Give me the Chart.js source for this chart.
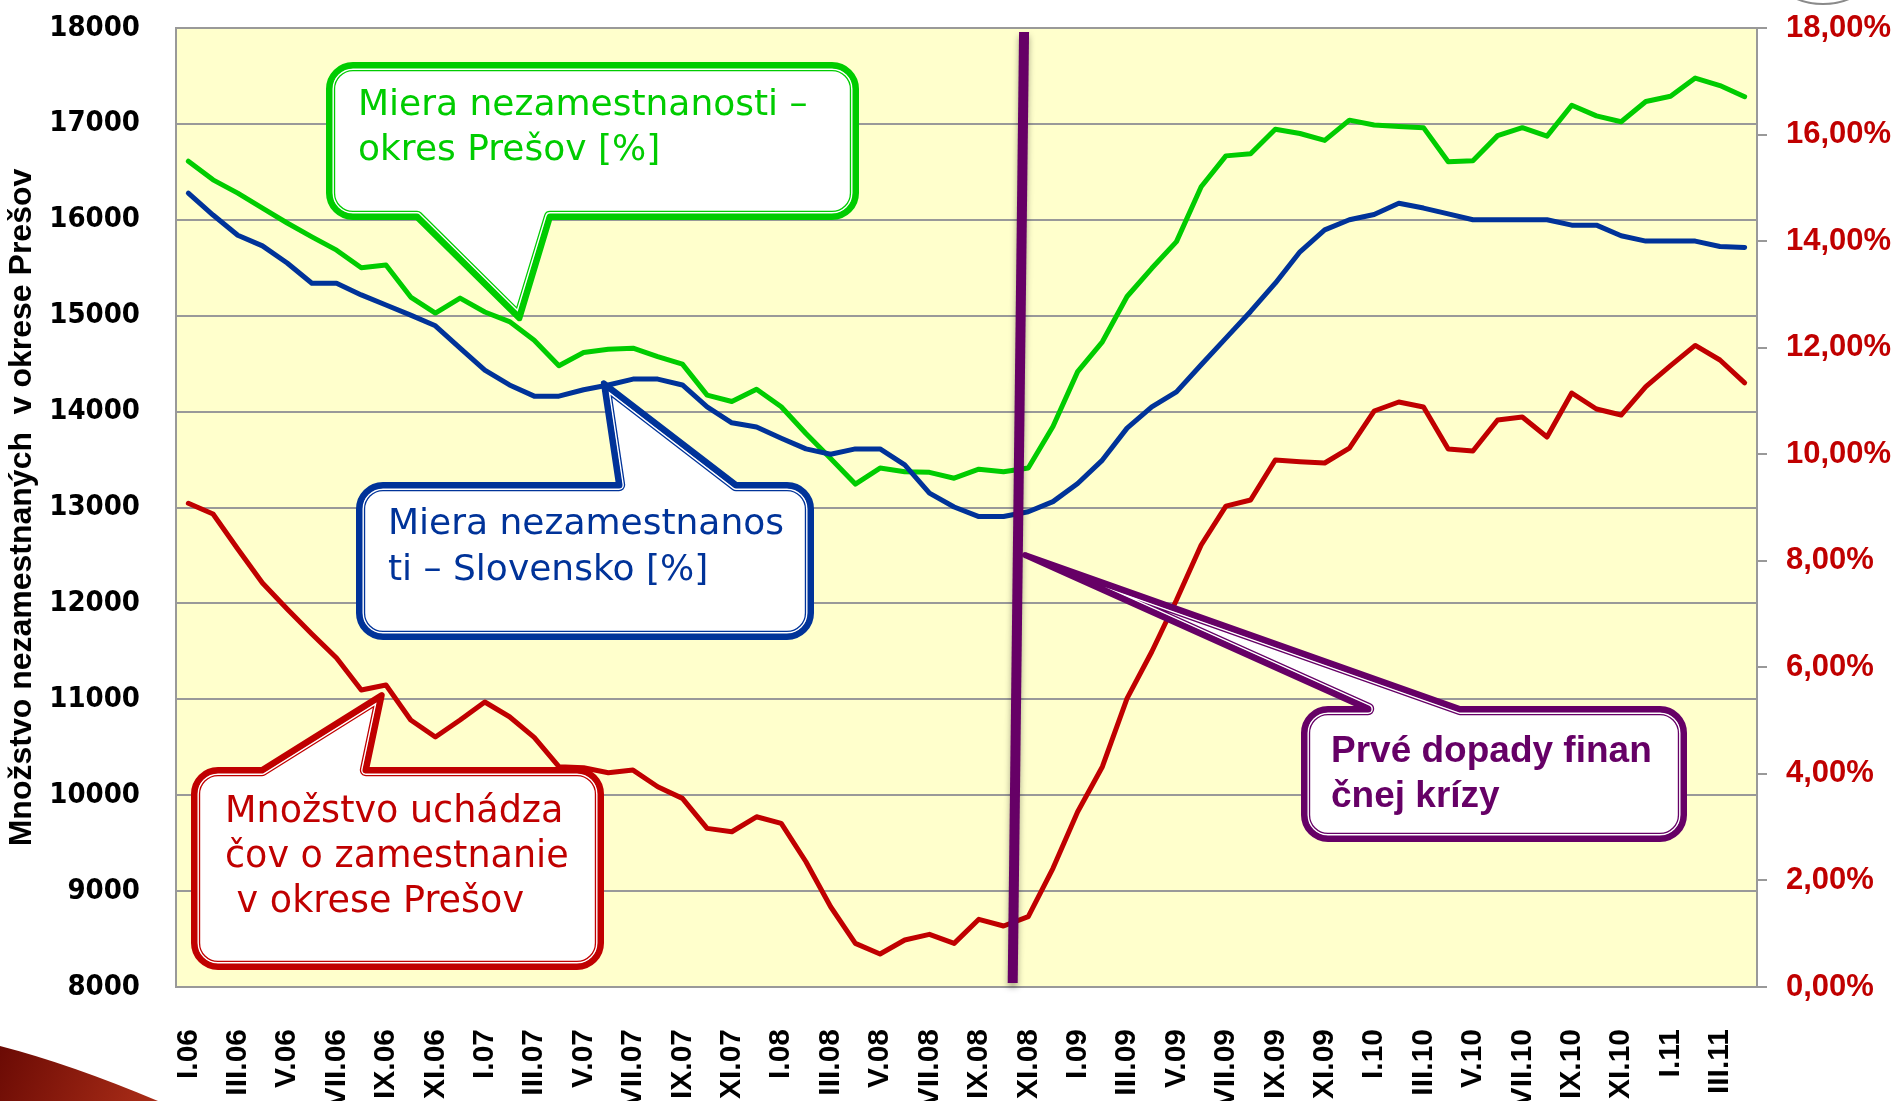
<!DOCTYPE html>
<html>
<head>
<meta charset="utf-8">
<script src="https://cdn.jsdelivr.net/npm/chart.js@4.4.1/dist/chart.umd.min.js"></script>
<style>
  html, body { margin: 0; padding: 0; background: #fff; }
  #wrap { width: 1901px; height: 1101px; }
</style>
</head>
<body>
<div id="wrap"><canvas id="chart" width="1901" height="1101"></canvas></div>
<script>
const months = [
  "I.06", "II.06", "III.06", "IV.06", "V.06", "VI.06", "VII.06", "VIII.06", "IX.06", "X.06", "XI.06", "XII.06",
  "I.07", "II.07", "III.07", "IV.07", "V.07", "VI.07", "VII.07", "VIII.07", "IX.07", "X.07", "XI.07", "XII.07",
  "I.08", "II.08", "III.08", "IV.08", "V.08", "VI.08", "VII.08", "VIII.08", "IX.08", "X.08", "XI.08", "XII.08",
  "I.09", "II.09", "III.09", "IV.09", "V.09", "VI.09", "VII.09", "VIII.09", "IX.09", "X.09", "XI.09", "XII.09",
  "I.10", "II.10", "III.10", "IV.10", "V.10", "VI.10", "VII.10", "VIII.10", "IX.10", "X.10", "XI.10", "XII.10",
  "I.11", "II.11", "III.11", "IV.11",
];

// pocet uchadzacov o zamestnanie v okrese Presov (lava os)
const uchadzaci = [
  13044, 12932, 12567, 12212, 11941, 11681, 11430, 11097, 11149, 10784, 10607, 10784,
  10972, 10818, 10603, 10297, 10286, 10234, 10262, 10088, 9967, 9654, 9619, 9775,
  9707, 9306, 8837, 8455, 8344, 8490, 8549, 8455, 8706, 8636, 8733, 9237,
  9828, 10297, 11010, 11496, 12035, 12609, 13015, 13078, 13495, 13477, 13464, 13620,
  14006, 14100, 14048, 13610, 13589, 13912, 13944, 13735, 14194, 14027, 13964, 14260,
  14480, 14690, 14538, 14300,
];

// miera nezamestnanosti - okres Presov [%] (prava os)
const mieraPresov = [
  15.50, 15.15, 14.90, 14.62, 14.34, 14.08, 13.83, 13.50, 13.55, 12.95, 12.65, 12.93,
  12.67, 12.49, 12.14, 11.66, 11.91, 11.97, 11.99, 11.83, 11.69, 11.11, 10.99, 11.22,
  10.89, 10.39, 9.92, 9.44, 9.74, 9.67, 9.66, 9.55, 9.72, 9.67, 9.74, 10.52,
  11.55, 12.11, 12.96, 13.49, 13.99, 15.02, 15.60, 15.64, 16.10, 16.02, 15.89, 16.27,
  16.18, 16.15, 16.13, 15.49, 15.51, 15.98, 16.13, 15.97, 16.55, 16.35, 16.24, 16.62,
  16.72, 17.06, 16.92, 16.71,
];

// miera nezamestnanosti - Slovensko [%] (prava os)
const mieraSlovensko = [
  14.90, 14.49, 14.11, 13.91, 13.59, 13.21, 13.21, 12.99, 12.80, 12.61, 12.41, 11.99,
  11.58, 11.30, 11.09, 11.09, 11.21, 11.30, 11.41, 11.41, 11.30, 10.89, 10.59, 10.51,
  10.30, 10.10, 10.00, 10.10, 10.10, 9.80, 9.27, 9.01, 8.83, 8.83, 8.92, 9.11,
  9.45, 9.89, 10.49, 10.89, 11.17, 11.68, 12.18, 12.68, 13.21, 13.80, 14.21, 14.40,
  14.50, 14.71, 14.62, 14.51, 14.40, 14.40, 14.40, 14.40, 14.30, 14.30, 14.10, 14.00,
  14.00, 14.00, 13.90, 13.88,
];

// bubliny s popisom: box v pixeloch, spicka v suradniciach grafu (index mesiaca, lava os)
const callouts = [
  {
    color: "#00CC00", box: [329, 65, 527, 152], side: "bottom", base: [417, 550], tip: [13.4, 14973],
    font: "36px 'DejaVu Sans'", x: 358, lines: [[115, "Miera nezamestnanosti –"], [160, "okres Prešov [%]"]],
  },
  {
    color: "#003399", box: [359, 485, 452, 152], side: "top", base: [619, 736], tip: [16.82, 14295],
    font: "36px 'DejaVu Sans'", x: 388, lines: [[534, "Miera nezamestnanos"], [580, "ti – Slovensko [%]"]],
  },
  {
    color: "#C00000", box: [194, 770, 407, 197], side: "top", base: [262, 366], tip: [7.83, 11044],
    font: "36.5px 'DejaVu Sans'", x: 225, lines: [[822, "Množstvo uchádza"], [867, "čov o zamestnanie"], [912, " v okrese Prešov"]],
  },
  {
    color: "#660066", box: [1304, 709, 380, 130], side: "top", base: [1368, 1460], tip: [33.87, 12504],
    font: "bold 37px 'Liberation Sans'", x: 1331, lines: [[762, "Prvé dopady finan"], [807, "čnej krízy"]],
  },
];

function calloutPath(ctx, c, tx, ty) {
  const [x, y, w, h] = c.box;
  const r = 24;
  ctx.beginPath();
  ctx.moveTo(x + r, y);
  if (c.side === "top") {
    ctx.lineTo(c.base[0], y);
    ctx.lineTo(tx, ty);
    ctx.lineTo(c.base[1], y);
  }
  ctx.lineTo(x + w - r, y);
  ctx.arcTo(x + w, y, x + w, y + r, r);
  ctx.lineTo(x + w, y + h - r);
  ctx.arcTo(x + w, y + h, x + w - r, y + h, r);
  if (c.side === "bottom") {
    ctx.lineTo(c.base[1], y + h);
    ctx.lineTo(tx, ty);
    ctx.lineTo(c.base[0], y + h);
  }
  ctx.lineTo(x + r, y + h);
  ctx.arcTo(x, y + h, x, y + h - r, r);
  ctx.lineTo(x, y + r);
  ctx.arcTo(x, y, x + r, y, r);
  ctx.closePath();
}

const annotationsPlugin = {
  id: "annotations",
  beforeDraw(chart) {
    const { ctx, chartArea: a } = chart;
    ctx.save();
    ctx.fillStyle = "#FFFFCC";
    ctx.fillRect(a.left, a.top, a.right - a.left, a.bottom - a.top);
    ctx.restore();
  },
  afterDatasetsDraw(chart) {
    const { ctx, chartArea: a, scales } = chart;
    const xs = scales.x, ys = scales.y;

    // zvisla ciara - prve dopady krizy
    ctx.save();
    ctx.strokeStyle = "#660066";
    ctx.lineWidth = 10;
    ctx.shadowColor = "rgba(0,0,0,0.35)";
    ctx.shadowBlur = 6;
    ctx.shadowOffsetY = 4;
    ctx.beginPath();
    ctx.moveTo(xs.getPixelForValue(33.83), a.top + 4);
    ctx.lineTo(xs.getPixelForValue(33.37), a.bottom - 4);
    ctx.stroke();
    ctx.restore();

    callouts.forEach((c) => {
      const tx = xs.getPixelForValue(c.tip[0]);
      const ty = ys.getPixelForValue(c.tip[1]);
      ctx.save();
      ctx.lineJoin = "round";
      calloutPath(ctx, c, tx, ty);
      ctx.fillStyle = "#fff";
      ctx.fill();
      ctx.save();
      ctx.clip();
      ctx.strokeStyle = c.color;
      ctx.lineWidth = 12.4;
      ctx.stroke();
      ctx.strokeStyle = "#fff";
      ctx.lineWidth = 9.8;
      ctx.stroke();
      ctx.strokeStyle = c.color;
      ctx.lineWidth = 7;
      ctx.stroke();
      ctx.restore();
      ctx.strokeStyle = c.color;
      ctx.lineWidth = 6;
      ctx.stroke();

      ctx.fillStyle = c.color;
      ctx.font = c.font;
      ctx.textAlign = "left";
      ctx.textBaseline = "alphabetic";
      c.lines.forEach(([by, t]) => ctx.fillText(t, c.x, by));
      ctx.restore();
    });
  },
  afterDraw(chart) {
    const { ctx } = chart;
    ctx.save();
    // dekoracia snimky vlavo dole
    const g = ctx.createLinearGradient(0, 1040, 140, 1101);
    g.addColorStop(0, "#6a0a04");
    g.addColorStop(1, "#a52a16");
    ctx.fillStyle = g;
    ctx.beginPath();
    ctx.moveTo(0, 1046);
    ctx.quadraticCurveTo(70, 1064, 158, 1101);
    ctx.lineTo(0, 1101);
    ctx.closePath();
    ctx.fill();
    // oblucik vpravo hore
    ctx.strokeStyle = "#8a8a8a";
    ctx.lineWidth = 2;
    ctx.beginPath();
    ctx.ellipse(1823, -22, 44, 26, 0, 0, Math.PI);
    ctx.stroke();
    ctx.restore();
  },
};

new Chart(document.getElementById("chart"), {
  type: "line",
  data: {
    labels: months,
    datasets: [
      { label: "Množstvo uchádzačov", data: uchadzaci, yAxisID: "y", borderColor: "#C00000" },
      { label: "Miera nezamestnanosti - Slovensko", data: mieraSlovensko, yAxisID: "y1", borderColor: "#003399" },
      { label: "Miera nezamestnanosti - okres Prešov", data: mieraPresov, yAxisID: "y1", borderColor: "#00CC00" },
    ],
  },
  options: {
    responsive: false,
    animation: false,
    devicePixelRatio: 1,
    layout: { padding: { top: 28, left: 0, right: 0, bottom: 0 } },
    elements: {
      line: { borderWidth: 5, tension: 0, borderJoinStyle: "round", borderCapStyle: "round", fill: false },
      point: { radius: 0, hoverRadius: 0 },
    },
    plugins: { legend: { display: false }, tooltip: { enabled: false } },
    scales: {
      x: {
        offset: true,
        grid: { display: false, drawTicks: false },
        border: { display: false },
        afterFit: (s) => { s.height = 114; },
        ticks: {
          autoSkip: false,
          minRotation: 90,
          maxRotation: 90,
          padding: 42,
          color: "#000",
          font: { family: "'Liberation Sans'", size: 30, weight: "bold" },
          callback: (v, i) => (i % 2 === 0 ? months[i] : ""),
        },
      },
      y: {
        position: "left",
        min: 8000,
        max: 18000,
        afterFit: (s) => { s.width = 176; s.paddingTop = 0; s.paddingBottom = 0; },
        grid: { color: "#999999", lineWidth: 2, drawTicks: false },
        border: { display: true, color: "#999999", width: 2 },
        ticks: {
          stepSize: 1000,
          padding: 36,
          color: "#000",
          font: { family: "'DejaVu Sans Condensed', 'DejaVu Sans'", size: 29, weight: "bold" },
          callback: (v) => String(v),
        },
        title: {
          display: true,
          text: "Množstvo nezamestnaných  v okrese Prešov",
          color: "#000",
          padding: { top: 3, bottom: 0 },
          font: { family: "'Liberation Sans'", size: 32, weight: "bold" },
        },
      },
      y1: {
        position: "right",
        min: 0,
        max: 18,
        afterFit: (s) => { s.width = 144; s.paddingTop = 0; s.paddingBottom = 0; },
        grid: { drawOnChartArea: false, drawTicks: true, tickLength: 10, color: "#999999", lineWidth: 2 },
        border: { display: true, color: "#999999", width: 2 },
        ticks: {
          stepSize: 2,
          padding: 19,
          color: "#C00000",
          font: { family: "'Liberation Sans'", size: 31, weight: "bold" },
          callback: (v) => v.toFixed(2).replace(".", ",") + "%",
        },
      },
    },
  },
  plugins: [annotationsPlugin],
});
</script>
</body>
</html>
